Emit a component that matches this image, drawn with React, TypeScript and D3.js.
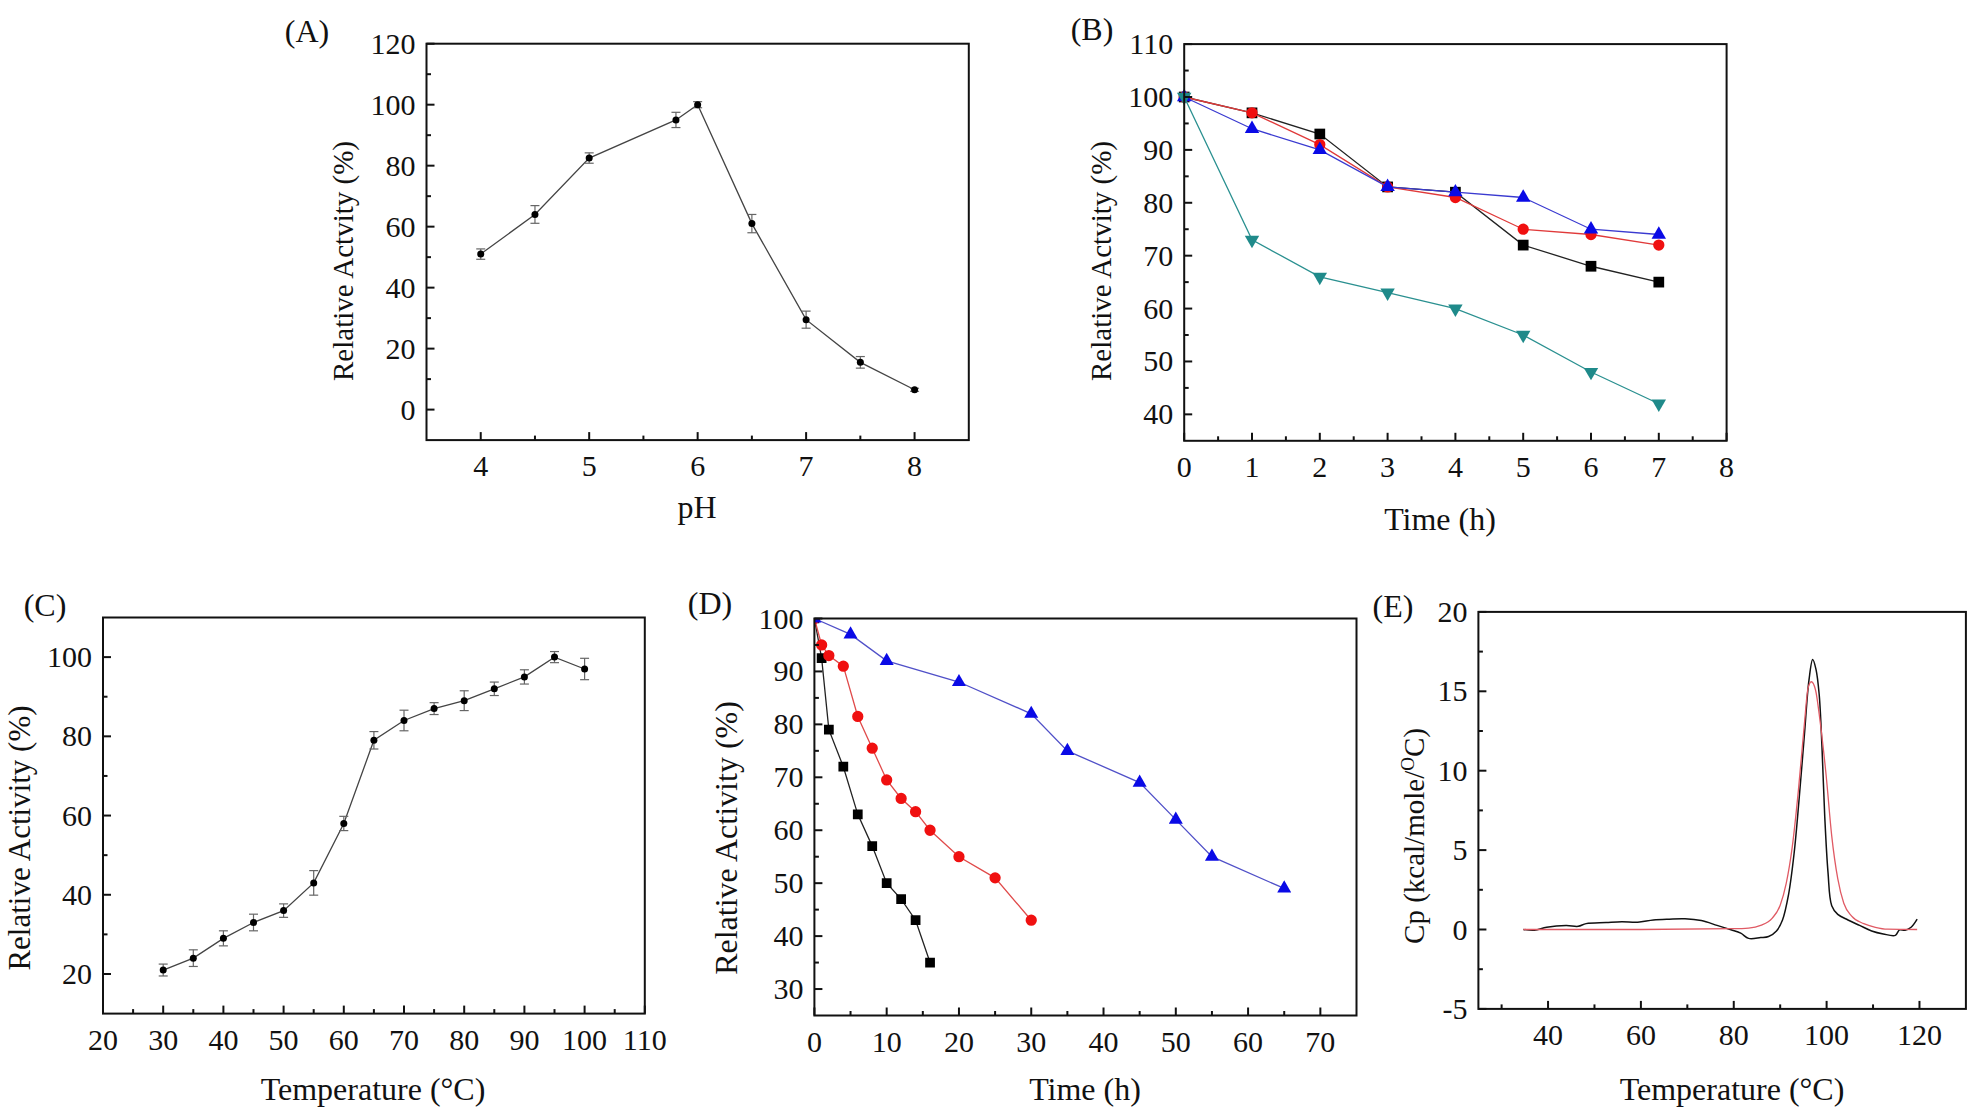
import React from "react";
import * as d3 from "d3";

// ---------- DATA ----------
// (A) pH profile
const pHValues = [4, 4.5, 5, 5.8, 6, 6.5, 7, 7.5, 8];
const pHActivity = [51, 64, 82.5, 95, 100, 61, 29.5, 15.5, 6.5];
const pHError = [1.7, 2.9, 1.7, 2.5, 1, 3, 2.8, 1.9, 0.5];
const aXTicks = [4, 5, 6, 7, 8];
const aXMinor = [4.5, 5.5, 6.5, 7.5];
const aYTicks = [0, 20, 40, 60, 80, 100, 120];
const aYMinor = [10, 30, 50, 70, 90, 110];

// (B) pH stability over time
const bTime = [0, 1, 2, 3, 4, 5, 6, 7];
const bBlack = [100, 97, 93, 83, 82, 72, 68, 65];
const bRed = [100, 97, 91, 83, 81, 75, 74, 72];
const bBlue = [100, 94, 90, 83, 82, 81, 75, 74];
const bTeal = [100, 73, 66, 63, 60, 55, 48, 42];
const bXTicks = [0, 1, 2, 3, 4, 5, 6, 7, 8];
const bXMinor = [0.5, 1.5, 2.5, 3.5, 4.5, 5.5, 6.5, 7.5];
const bYTicks = [40, 50, 60, 70, 80, 90, 100, 110];
const bYMinor = [45, 55, 65, 75, 85, 95, 105];

// (C) temperature profile
const cTemp = [30, 35, 40, 45, 50, 55, 60, 65, 70, 75, 80, 85, 90, 95, 100];
const cActivity = [21, 24, 29, 33, 36, 43, 58, 79, 84, 87, 89, 92, 95, 100, 97];
const cError = [1.5, 2.1, 1.9, 2.1, 1.7, 3.1, 1.8, 2.2, 2.6, 1.5, 2.5, 1.7, 1.8, 1.4, 2.7];
const cXTicks = [20, 30, 40, 50, 60, 70, 80, 90, 100, 110];
const cXMinor = [25, 35, 45, 55, 65, 75, 85, 95, 105];
const cYTicks = [20, 40, 60, 80, 100];
const cYMinor = [30, 50, 70, 90];

// (D) thermostability over time
const dBlackT = [0, 1, 2, 4, 6, 8, 10, 12, 14, 16];
const dBlackY = [100, 92.5, 79, 72, 63, 57, 50, 47, 43, 35];
const dRedT = [0, 1, 2, 4, 6, 8, 10, 12, 14, 16, 20, 25, 30];
const dRedY = [100, 95, 93, 91, 81.5, 75.5, 69.5, 66, 63.5, 60, 55, 51, 43];
const dBlueT = [0, 5, 10, 20, 30, 35, 45, 50, 55, 65];
const dBlueY = [100, 97, 92, 88, 82, 75, 69, 62, 55, 49];
const dXTicks = [0, 10, 20, 30, 40, 50, 60, 70];
const dXMinor = [5, 15, 25, 35, 45, 55, 65];
const dYTicks = [30, 40, 50, 60, 70, 80, 90, 100];
const dYMinor = [35, 45, 55, 65, 75, 85, 95];

// (E) DSC
const eBlackT = [34.7, 37.1, 39.7, 43.9, 46.5, 48.2, 52.5, 55.9, 59.3, 62.7, 66.1, 69.5, 73, 76.4, 79.4, 81.5, 83.2, 85.8, 87.5, 89.2, 90.5, 91.8, 93, 94.1, 95.2, 96.2, 97, 97.7, 98.4, 99, 99.6, 100.3, 101.1, 102.4, 104.6, 107.1, 109.7, 112.2, 114.8, 115.7, 116.9, 118.2, 119.5];
const eBlackCp = [0, -0.05, 0.14, 0.25, 0.2, 0.37, 0.44, 0.49, 0.46, 0.6, 0.65, 0.67, 0.56, 0.26, -0.02, -0.23, -0.56, -0.51, -0.44, -0.09, 0.6, 2.2, 4.8, 8.3, 12.2, 15.7, 17.0, 16.4, 14.8, 11.5, 7.1, 3.6, 1.5, 0.95, 0.6, 0.26, -0.09, -0.28, -0.37, -0.02, -0.05, 0.14, 0.65];
const eRedT = [34.7, 60, 79.8, 83.2, 85.8, 88.3, 90, 91.3, 92.6, 93.9, 95.2, 96, 96.7, 97.6, 98.6, 99.9, 101.1, 102.4, 103.7, 105.4, 108, 110.5, 113.1, 119.5];
const eRedCp = [0, 0, 0.05, 0.09, 0.26, 0.72, 1.53, 2.9, 5.2, 8.7, 12.9, 15.2, 15.6, 15.1, 13.1, 9.7, 5.9, 3.2, 1.65, 0.84, 0.37, 0.14, 0.02, 0];
const eXTicks = [40, 60, 80, 100, 120];
const eXMinor = [30, 50, 70, 90, 110];
const eYTicks = [-5, 0, 5, 10, 15, 20];
const eYMinor = [-2.5, 2.5, 7.5, 12.5, 17.5];

// ---------- STYLE ----------
const FONT = "'Liberation Serif', 'Times New Roman', serif";
const TICK_FS = 30;
const TITLE_FS = 32;

type PanelProps = {
  id: string;
  x0: number; x1: number; y0: number; y1: number;
  xDom: [number, number]; yDom: [number, number];
  xTicks: number[]; xMinor: number[]; yTicks: number[]; yMinor: number[];
  label: string; labelPos: [number, number];
  yTitle: React.ReactNode; yTitlePos: [number, number]; yTitleSize: number;
  xTitle: React.ReactNode; xTitlePos: [number, number];
  children: (x: d3.ScaleLinear<number, number>, y: d3.ScaleLinear<number, number>) => React.ReactNode;
};

function Panel(p: PanelProps) {
  const x = d3.scaleLinear().domain(p.xDom).range([p.x0, p.x1]);
  const y = d3.scaleLinear().domain(p.yDom).range([p.y1, p.y0]);
  const major = 8;
  const minor = 4.5;
  return (
    <g>
      <defs>
        <clipPath id={"clip" + p.id}>
          <rect x={p.x0} y={p.y0} width={p.x1 - p.x0} height={p.y1 - p.y0} />
        </clipPath>
      </defs>
      {p.children(x, y)}
      <rect x={p.x0} y={p.y0} width={p.x1 - p.x0} height={p.y1 - p.y0} fill="none" stroke="#111" strokeWidth={2} />
      {p.xTicks.map((t) => (
        <g key={"xt" + t}>
          <line x1={x(t)} x2={x(t)} y1={p.y1} y2={p.y1 - major} stroke="#111" strokeWidth={2} />
          <text x={x(t)} y={p.y1 + 36} textAnchor="middle" fontSize={TICK_FS} fontFamily={FONT} fill="#111">{t}</text>
        </g>
      ))}
      {p.xMinor.map((t) => (
        <line key={"xm" + t} x1={x(t)} x2={x(t)} y1={p.y1} y2={p.y1 - minor} stroke="#111" strokeWidth={2} />
      ))}
      {p.yTicks.map((t) => (
        <g key={"yt" + t}>
          <line x1={p.x0} x2={p.x0 + major} y1={y(t)} y2={y(t)} stroke="#111" strokeWidth={2} />
          <text x={p.x0 - 11} y={y(t) + 10} textAnchor="end" fontSize={TICK_FS} fontFamily={FONT} fill="#111">{t}</text>
        </g>
      ))}
      {p.yMinor.map((t) => (
        <line key={"ym" + t} x1={p.x0} x2={p.x0 + minor} y1={y(t)} y2={y(t)} stroke="#111" strokeWidth={2} />
      ))}
      <text x={p.labelPos[0]} y={p.labelPos[1]} textAnchor="middle" fontSize={TITLE_FS} fontFamily={FONT} fill="#111">{p.label}</text>
      <text transform={`translate(${p.yTitlePos[0]},${p.yTitlePos[1]}) rotate(-90)`} textAnchor="middle" fontSize={p.yTitleSize} fontFamily={FONT} fill="#111">{p.yTitle}</text>
      <text x={p.xTitlePos[0]} y={p.xTitlePos[1]} textAnchor="middle" fontSize={TITLE_FS} fontFamily={FONT} fill="#111">{p.xTitle}</text>
    </g>
  );
}

function ErrorSeries({ xs, ys, es, x, y }: any) {
  const line = d3.line<number>().x((_, i) => x(xs[i])).y((v) => y(v));
  return (
    <g>
      <path d={line(ys) || ""} fill="none" stroke="#444" strokeWidth={1.3} />
      {ys.map((v: number, i: number) => {
        const cx = x(xs[i]);
        const top = y(v + es[i]);
        const bot = y(v - es[i]);
        return (
          <g key={i}>
            <line x1={cx} x2={cx} y1={top} y2={bot} stroke="#666" strokeWidth={1.2} />
            <line x1={cx - 4.5} x2={cx + 4.5} y1={top} y2={top} stroke="#666" strokeWidth={1.2} />
            <line x1={cx - 4.5} x2={cx + 4.5} y1={bot} y2={bot} stroke="#666" strokeWidth={1.2} />
            <circle cx={cx} cy={y(v)} r={3.5} fill="#000" />
          </g>
        );
      })}
    </g>
  );
}

function MarkerSeries({ xs, ys, x, y, color, lineColor, shape, size, clip }: any) {
  const line = d3.line<number>().x((_, i) => x(xs[i])).y((v) => y(v));
  const flip = shape === "down";
  const symType =
    shape === "square" ? d3.symbolSquare :
    shape === "circle" ? d3.symbolCircle : d3.symbolTriangle;
  const path = d3.symbol().type(symType).size(size)() || "";
  return (
    <g>
      <path d={line(ys) || ""} fill="none" stroke={lineColor} strokeWidth={1.3} />
      <g clipPath={clip}>
        {ys.map((v: number, i: number) => (
          <path key={i} d={path} fill={color}
            transform={`translate(${x(xs[i])},${y(v)})${flip ? " rotate(180)" : ""}`} />
        ))}
      </g>
    </g>
  );
}

export default function App() {
  return (
    <svg width={1983} height={1118} style={{ position: "absolute", left: 0, top: 0, display: "block", background: "#fff" }}>
      <rect x={0} y={0} width={1983} height={1118} fill="#fff" />
      {/* (A) */}
      <Panel id="A" x0={426.5} x1={968.8} y0={43.7} y1={440.1} xDom={[3.5, 8.5]} yDom={[-10, 120]}
        xTicks={aXTicks} xMinor={aXMinor} yTicks={aYTicks} yMinor={aYMinor}
        label="(A)" labelPos={[307, 42]}
        yTitle="Relative Actvity (%)" yTitlePos={[353, 261]} yTitleSize={29}
        xTitle="pH" xTitlePos={[697, 518]}>
        {(x, y) => <ErrorSeries xs={pHValues} ys={pHActivity} es={pHError} x={x} y={y} />}
      </Panel>
      {/* (B) */}
      <Panel id="B" x0={1184.2} x1={1726.6} y0={44.1} y1={440.8} xDom={[0, 8]} yDom={[35, 110]}
        xTicks={bXTicks} xMinor={bXMinor} yTicks={bYTicks} yMinor={bYMinor}
        label="(B)" labelPos={[1092, 40]}
        yTitle="Relative Actvity (%)" yTitlePos={[1111, 261]} yTitleSize={29}
        xTitle="Time (h)" xTitlePos={[1440, 530]}>
        {(x, y) => (
          <g>
            <MarkerSeries xs={bTime} ys={bBlack} x={x} y={y} color="#000" lineColor="#222" shape="square" size={115} />
            <MarkerSeries xs={bTime} ys={bRed} x={x} y={y} color="#f01010" lineColor="#e03a3a" shape="circle" size={100} />
            <MarkerSeries xs={bTime} ys={bBlue} x={x} y={y} color="#0a0ae6" lineColor="#3a3ad0" shape="triangle" size={90} />
            <MarkerSeries xs={bTime} ys={bTeal} x={x} y={y} color="#1f8a8a" lineColor="#2a9090" shape="down" size={90} />
          </g>
        )}
      </Panel>
      {/* (C) */}
      <Panel id="C" x0={103} x1={644.8} y0={617.5} y1={1013.6} xDom={[20, 110]} yDom={[10, 110]}
        xTicks={cXTicks} xMinor={cXMinor} yTicks={cYTicks} yMinor={cYMinor}
        label="(C)" labelPos={[45, 616]}
        yTitle="Relative Activity (%)" yTitlePos={[30, 838]} yTitleSize={31}
        xTitle="Temperature (°C)" xTitlePos={[373, 1100]}>
        {(x, y) => <ErrorSeries xs={cTemp} ys={cActivity} es={cError} x={x} y={y} />}
      </Panel>
      {/* (D) */}
      <Panel id="D" x0={814.4} x1={1356.5} y0={618.5} y1={1015.5} xDom={[0, 75]} yDom={[25, 100]}
        xTicks={dXTicks} xMinor={dXMinor} yTicks={dYTicks} yMinor={dYMinor}
        label="(D)" labelPos={[710, 614]}
        yTitle="Relative Activity (%)" yTitlePos={[737, 838]} yTitleSize={32}
        xTitle="Time (h)" xTitlePos={[1085, 1100]}>
        {(x, y) => (
          <g>
            <MarkerSeries xs={dBlackT} ys={dBlackY} x={x} y={y} color="#000" lineColor="#222" shape="square" size={95} clip="url(#clipD)" />
            <MarkerSeries xs={dRedT} ys={dRedY} x={x} y={y} color="#f01010" lineColor="#e04a4a" shape="circle" size={100} clip="url(#clipD)" />
            <MarkerSeries xs={dBlueT} ys={dBlueY} x={x} y={y} color="#0a0ae6" lineColor="#5050c8" shape="triangle" size={85} clip="url(#clipD)" />
          </g>
        )}
      </Panel>
      {/* (E) */}
      <Panel id="E" x0={1478.4} x1={1965.9} y0={611.9} y1={1008.9} xDom={[25, 130]} yDom={[-5, 20]}
        xTicks={eXTicks} xMinor={eXMinor} yTicks={eYTicks} yMinor={eYMinor}
        label="(E)" labelPos={[1393, 617]}
        yTitle={<>Cp (kcal/mole/<tspan dy={-10} fontSize={19}>O</tspan><tspan dy={10}>C)</tspan></>} yTitlePos={[1424, 836]} yTitleSize={29}
        xTitle="Temperature (°C)" xTitlePos={[1732, 1100]}>
        {(x, y) => {
          const lb = d3.line<number>().x((_, i) => x(eBlackT[i])).y((v) => y(v)).curve(d3.curveCatmullRom);
          const lr = d3.line<number>().x((_, i) => x(eRedT[i])).y((v) => y(v)).curve(d3.curveMonotoneX);
          return (
            <g>
              <path d={lb(eBlackCp) || ""} fill="none" stroke="#111" strokeWidth={1.5} />
              <path d={lr(eRedCp) || ""} fill="none" stroke="#e05a64" strokeWidth={1.3} />
            </g>
          );
        }}
      </Panel>
    </svg>
  );
}
